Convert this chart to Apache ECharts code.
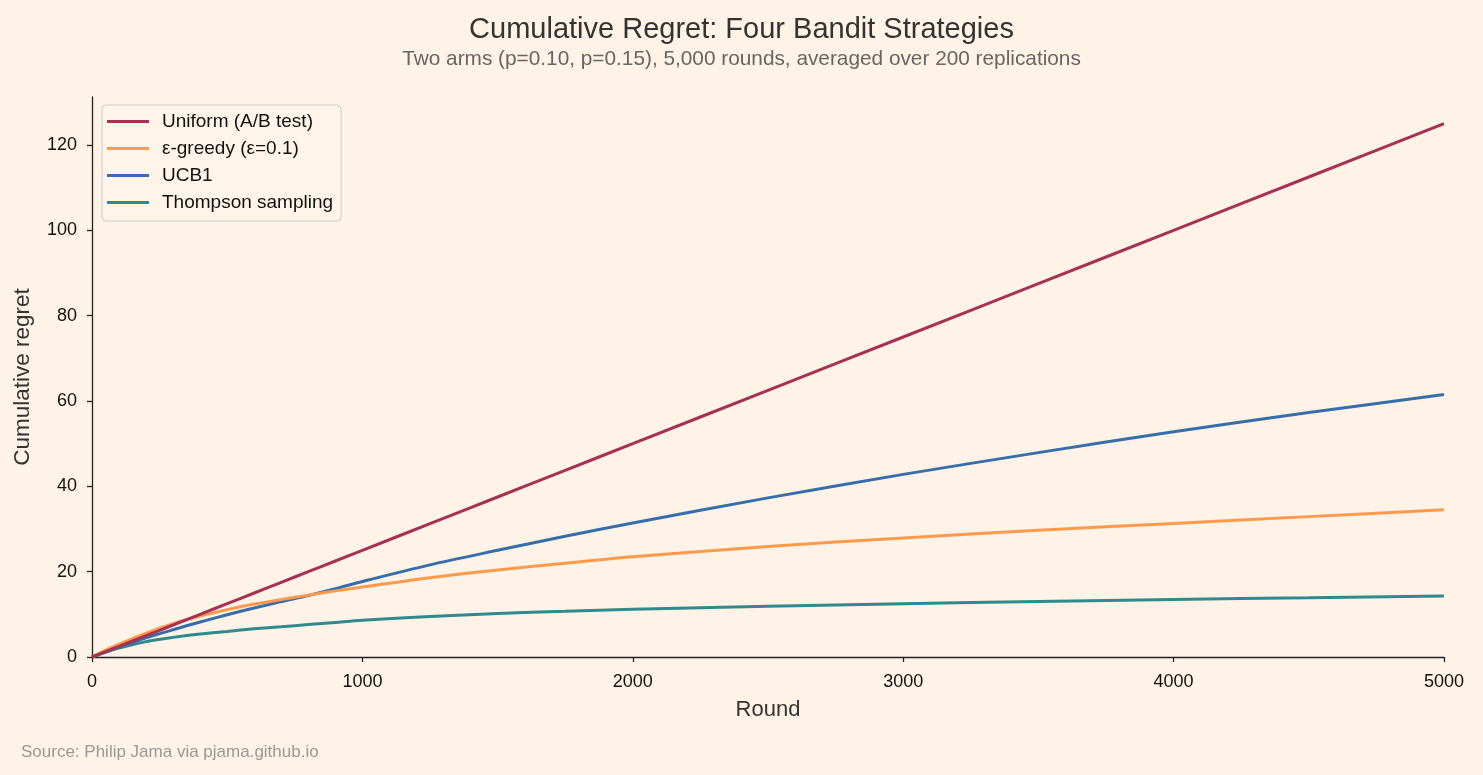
<!DOCTYPE html>
<html>
<head>
<meta charset="utf-8">
<script src="https://cdn.jsdelivr.net/npm/echarts@6/dist/echarts.min.js"></script>
<style>
html,body{margin:0;padding:0;background:#FFF2E6;}
#c{width:1483px;height:775px;}
</style>
</head>
<body>
<div id="c"></div>
<script>
var rounds = [0, 50, 100, 200, 300, 400, 500, 600, 700, 800, 900, 1000, 1250, 1500, 1750, 2000, 2500, 3000, 3500, 4000, 4500, 5000];
var uniform = [0, 1.25, 2.5, 5, 7.5, 10, 12.5, 15, 17.5, 20, 22.5, 25, 31.25, 37.5, 43.75, 50, 62.5, 75, 87.5, 100, 112.5, 125];
var epsGreedy = [0, 1.6, 3.0, 5.6, 7.8, 9.6, 11.1, 12.4, 13.5, 14.5, 15.5, 16.4, 18.6, 20.4, 22.0, 23.5, 25.9, 27.9, 29.7, 31.3, 32.9, 34.5];
var ucb1 = [0, 1.2, 2.3, 4.5, 6.4, 8.2, 9.9, 11.5, 13.0, 14.4, 16.0, 17.7, 21.6, 25.0, 28.3, 31.4, 37.3, 42.8, 47.9, 52.8, 57.3, 61.5];
var thompson = [0, 1.1, 2.1, 3.6, 4.6, 5.4, 6.0, 6.6, 7.1, 7.6, 8.1, 8.6, 9.5, 10.2, 10.7, 11.2, 11.9, 12.5, 13.0, 13.5, 13.9, 14.3];
var yTicks = [0, 20, 40, 60, 80, 100, 120];
var xTicks = [0, 1000, 2000, 3000, 4000, 5000];
var seriesNames = ['Uniform (A/B test)', 'ε-greedy (ε=0.1)', 'UCB1', 'Thompson sampling'];
var colors = ['#A63152', '#FF9A4D', '#356EAA', '#2E8A8C'];

function pairs(ys){ return rounds.map(function(r,i){ return [r, ys[i]]; }); }
var allData = [uniform, epsGreedy, ucb1, thompson];

var font = 'Liberation Sans, Arial, sans-serif';
var chart = echarts.init(document.getElementById('c'));
chart.setOption({
  backgroundColor: '#FFF2E6',
  animation: false,
  textStyle: {fontFamily: font},
  title: [{
    text: 'Cumulative Regret: Four Bandit Strategies',
    left: 'center', top: 10,
    textStyle: {fontSize: 29, fontWeight: 'normal', color: '#333333', fontFamily: font}
  }, {
    text: 'Two arms (p=0.10, p=0.15), 5,000 rounds, averaged over 200 replications',
    left: 'center', top: 44,
    textStyle: {fontSize: 20.8, fontWeight: 'normal', color: '#666666', fontFamily: font}
  }, {
    text: 'Source: Philip Jama via pjama.github.io',
    left: 16, top: 739,
    textStyle: {fontSize: 17, fontWeight: 'normal', color: '#999999', fontFamily: font}
  }],
  legend: {
    orient: 'vertical',
    left: 102, top: 105,
    padding: [7, 8, 9, 5],
    itemWidth: 42, itemHeight: 3,
    itemGap: 8,
    icon: 'rect',
    backgroundColor: '#FFF4EA',
    borderColor: '#CCCCCC',
    borderWidth: 1,
    borderRadius: 4,
    textStyle: {fontSize: 19, color: '#111111', fontFamily: font, padding: [0,0,0,8]},
    data: seriesNames
  },
  grid: {left: 92, right: 39, top: 97, bottom: 118, containLabel: false},
  xAxis: {
    type: 'value', min: 0, max: 5000, interval: 1000,
    name: 'Round', nameLocation: 'middle', nameGap: 42,
    nameTextStyle: {fontSize: 22, color: '#333333', fontFamily: font},
    axisLine: {show: true, lineStyle: {color: '#222222', width: 1.3}},
    axisTick: {show: true, length: 5, lineStyle: {color: '#222222', width: 1.3}},
    axisLabel: {fontSize: 18, color: '#111111', margin: 16, fontFamily: font, customValues: xTicks,
      formatter: function(v){ return String(v); }},
    splitLine: {show: false}
  },
  yAxis: {
    type: 'value', min: 0, max: 131.25,
    name: 'Cumulative regret', nameLocation: 'middle', nameGap: 58, nameRotate: 90,
    nameTextStyle: {fontSize: 22.5, color: '#333333', fontFamily: font},
    axisLine: {show: true, lineStyle: {color: '#222222', width: 1.3}},
    axisTick: {show: true, length: 5, lineStyle: {color: '#222222', width: 1.3}, customValues: yTicks},
    axisLabel: {fontSize: 18, color: '#111111', margin: 15, fontFamily: font, customValues: yTicks},
    splitLine: {show: false}
  },
  series: seriesNames.map(function(n, i){
    return {
      name: n, type: 'line', data: pairs(allData[i]),
      showSymbol: false, symbol: 'none', smooth: 0.3,
      lineStyle: {color: colors[i], width: 3},
      itemStyle: {color: colors[i]},
      z: 10 - i
    };
  })
});
</script>
</body>
</html>
